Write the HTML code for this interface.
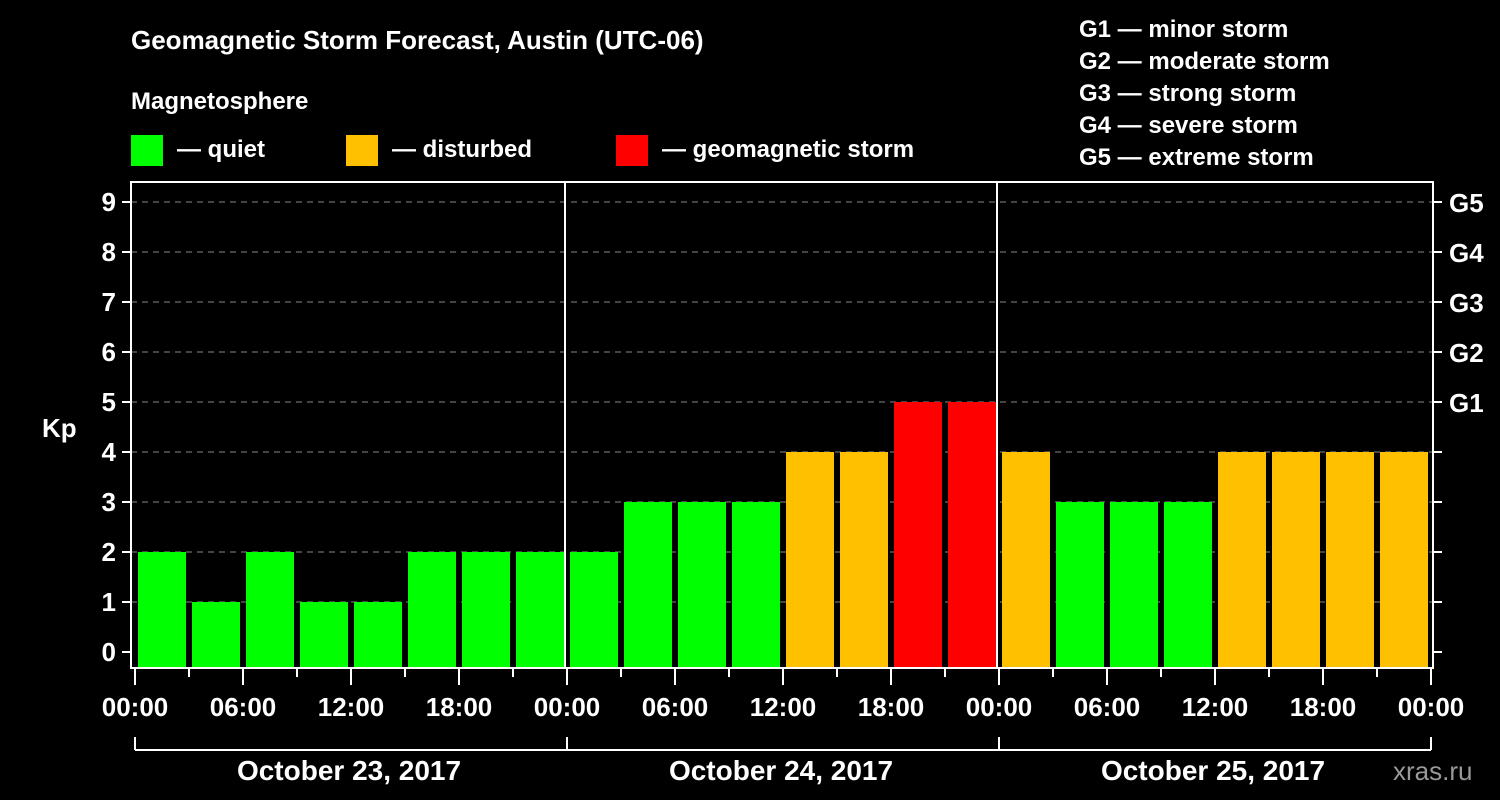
<!DOCTYPE html>
<html><head><meta charset="utf-8"><style>
body{margin:0;background:#000;}
svg{display:block;font-family:"Liberation Sans",Arial,sans-serif;font-weight:bold;}
</style></head><body>
<svg id="chart" width="1500" height="800" viewBox="0 0 1500 800">
<rect width="1500" height="800" fill="#000"/>
<text x="131" y="49" fill="#fff" font-size="26">Geomagnetic Storm Forecast, Austin (UTC-06)</text>
<text x="131" y="109" fill="#fff" font-size="24">Magnetosphere</text>
<g><rect x="131" y="135" width="32" height="31" fill="#00ff00"/><text x="177" y="157" fill="#fff" font-size="24">— quiet</text></g>
<g><rect x="346" y="135" width="32" height="31" fill="#ffc000"/><text x="392" y="157" fill="#fff" font-size="24">— disturbed</text></g>
<g><rect x="616" y="135" width="32" height="31" fill="#ff0000"/><text x="662" y="157" fill="#fff" font-size="24">— geomagnetic storm</text></g>
<g fill="#fff" font-size="24">
<text x="1079" y="37">G1 — minor storm</text>
<text x="1079" y="69">G2 — moderate storm</text>
<text x="1079" y="101">G3 — strong storm</text>
<text x="1079" y="133">G4 — severe storm</text>
<text x="1079" y="165">G5 — extreme storm</text>
</g>
<text x="42" y="437" fill="#fff" font-size="26">Kp</text>
<g id="grid"></g><g id="bars"></g><g id="axes"></g>
<text x="1393" y="780" fill="#999" font-size="26" font-weight="normal">xras.ru</text>
</svg>
<script>
const kpValues=[2,1,2,1,1,2,2,2, 2,3,3,3,4,4,5,5, 4,3,3,3,4,4,4,4];
const yTicks=[0,1,2,3,4,5,6,7,8,9];
const gLabels=["G1","G2","G3","G4","G5"];
const timeLabels=["00:00","06:00","12:00","18:00"];
const dayLabels=["October 23, 2017","October 24, 2017","October 25, 2017"];
const NS="http://www.w3.org/2000/svg";
const x0=135,dayW=432,slotW=54;
function xs(i){return x0+i*slotW;}
function ys(v){return 652-v*50;}
function mk(parent,tag,attrs){const e=document.createElementNS(NS,tag);for(const k in attrs)e.setAttribute(k,attrs[k]);document.getElementById(parent).appendChild(e);return e;}
function color(v){return v>=5?"#ff0000":v>=4?"#ffc000":"#00ff00";}
yTicks.forEach(v=>{
 if(v>0){const l=mk("grid","line",{x1:131,x2:1433,y1:ys(v),y2:ys(v),stroke:"#888","stroke-dasharray":"6,5","stroke-width":1});
 
 }
 const t=mk("axes","text",{x:116,y:ys(v)+9,fill:"#fff","font-size":26,"text-anchor":"end"});t.textContent=v;
 
 
 mk("axes","line",{x1:122,x2:131,y1:ys(v),y2:ys(v),stroke:"#fff","stroke-width":2});
 mk("axes","line",{x1:1433,x2:1442,y1:ys(v),y2:ys(v),stroke:"#fff","stroke-width":2});
 if(v>=5){const g=mk("axes","text",{x:1449,y:ys(v)+10,fill:"#fff","font-size":26});g.textContent=gLabels[v-5];
 
 }
});
kpValues.forEach((v,i)=>{
 const r=mk("bars","rect",{x:xs(i)+3,y:ys(v),width:48,height:668-ys(v),fill:color(v)});
 
 
});
mk("axes","rect",{x:131,y:182,width:1302,height:486,fill:"none",stroke:"#fff","stroke-width":2});
for(let d=1;d<3;d++)mk("axes","line",{x1:x0+d*dayW-2,x2:x0+d*dayW-2,y1:182,y2:668,stroke:"#fff","stroke-width":2});
for(let i=0;i<=24;i++){
 const major=i%2===0;
 mk("axes","line",{x1:xs(i),x2:xs(i),y1:668,y2:major?685:677,stroke:"#fff","stroke-width":2});
 if(major){const t=mk("axes","text",{x:xs(i),y:716,fill:"#fff","font-size":26,"text-anchor":"middle"});t.textContent=i===24?timeLabels[0]:timeLabels[(i/2)%4];
 
 }
}
mk("axes","line",{x1:x0,x2:x0+3*dayW,y1:750,y2:750,stroke:"#fff","stroke-width":2});
for(let d=0;d<=3;d++)mk("axes","line",{x1:x0+d*dayW,x2:x0+d*dayW,y1:737,y2:750,stroke:"#fff","stroke-width":2});
dayLabels.forEach((s,d)=>{const t=mk("axes","text",{x:x0+d*dayW+dayW/2-2,y:780,fill:"#fff","font-size":28,"text-anchor":"middle"});t.textContent=s;
 
 });
</script>
</body></html>
